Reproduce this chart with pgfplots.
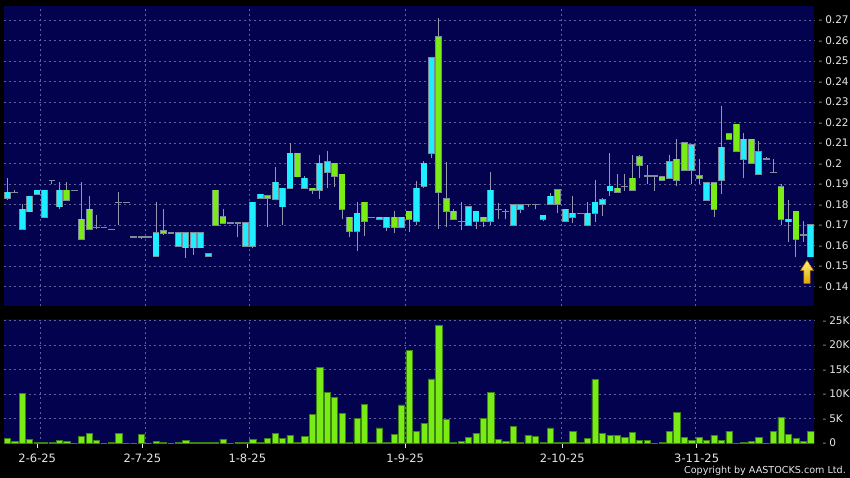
\documentclass[border=0pt]{standalone}
\usepackage{pgfplots}
\pgfplotsset{compat=1.18}
\usepackage{pgfplotstable}
\usepackage{fontspec}
\setmainfont{DejaVu Sans}
\definecolor{panel}{RGB}{2,2,78}
\definecolor{gridc}{RGB}{95,95,155}
\definecolor{wick}{RGB}{150,150,175}
\definecolor{bord}{RGB}{125,140,155}
\definecolor{cy}{RGB}{30,238,255}
\definecolor{gr}{RGB}{120,236,20}
\definecolor{vbord}{RGB}{60,130,20}
\definecolor{lab}{RGB}{230,230,230}
\definecolor{dashc}{RGB}{160,160,160}
\newcommand{\dl}[1]{\textcolor{dashc}{-}\hspace{3pt}#1}

\pgfplotstableread{
x lo hi bot top c
0 0.1822 0.1928 0.1831 0.1860 1
1 0.1860 0.1870 0.1860 0.1860 0
2 0.1681 0.1802 0.1681 0.1777 1
3 0.1766 0.1840 0.1766 0.1840 1
4 0.1850 0.1869 0.1850 0.1869 1
5 0.1739 0.1869 0.1739 0.1869 1
6 0.1898 0.1918 0.1918 0.1918 0
7 0.1777 0.1908 0.1790 0.1869 1
8 0.1821 0.1908 0.1821 0.1869 2
9 0.1869 0.1869 0.1869 0.1869 0
10 0.1632 0.1908 0.1632 0.1729 2
11 0.1680 0.1844 0.1680 0.1777 2
12 0.1680 0.1748 0.1690 0.1690 0
13 0.1690 0.1690 0.1690 0.1690 0
14 0.1680 0.1680 0.1680 0.1680 0
15 0.1700 0.1860 0.1811 0.1811 0
16 0.1811 0.1811 0.1811 0.1811 0
17 0.1642 0.1642 0.1642 0.1642 0
18 0.1632 0.1642 0.1642 0.1642 0
19 0.1642 0.1642 0.1642 0.1642 0
20 0.1548 0.1811 0.1548 0.1661 1
21 0.1652 0.1777 0.1660 0.1673 2
22 0.1661 0.1661 0.1661 0.1661 0
23 0.1597 0.1661 0.1597 0.1661 1
24 0.1539 0.1661 0.1589 0.1661 1
25 0.1556 0.1661 0.1589 0.1661 1
26 0.1589 0.1661 0.1589 0.1661 1
27 0.1548 0.1560 0.1548 0.1560 1
28 0.1700 0.1869 0.1700 0.1869 2
29 0.1710 0.1777 0.1710 0.1739 2
30 0.1710 0.1710 0.1710 0.1710 0
31 0.1640 0.1710 0.1710 0.1710 0
32 0.1597 0.1710 0.1597 0.1710 1
33 0.1587 0.1811 0.1597 0.1811 1
34 0.1831 0.1850 0.1831 0.1850 1
35 0.1689 0.1842 0.1831 0.1842 2
36 0.1827 0.1982 0.1827 0.1909 1
37 0.1700 0.1879 0.1790 0.1879 1
38 0.1879 0.2100 0.1879 0.2050 1
39 0.1936 0.2050 0.1936 0.2050 2
40 0.1879 0.1939 0.1879 0.1928 1
41 0.1852 0.1879 0.1869 0.1879 2
42 0.1827 0.2042 0.1869 0.2001 1
43 0.1879 0.2061 0.1957 0.2009 1
44 0.1887 0.2001 0.1939 0.2001 2
45 0.1728 0.1948 0.1777 0.1948 2
46 0.1640 0.1738 0.1671 0.1738 2
47 0.1575 0.1813 0.1671 0.1757 1
48 0.1648 0.1811 0.1720 0.1811 2
49 0.1738 0.1738 0.1738 0.1738 0
50 0.1730 0.1738 0.1730 0.1738 1
51 0.1671 0.1738 0.1689 0.1738 1
52 0.1660 0.1770 0.1689 0.1738 2
53 0.1689 0.1738 0.1689 0.1738 1
54 0.1668 0.1767 0.1730 0.1767 2
55 0.1700 0.1917 0.1720 0.1879 1
56 0.1879 0.2014 0.1891 0.2001 1
57 0.2029 0.2516 0.2050 0.2516 1
58 0.1680 0.2708 0.1860 0.2619 2
59 0.1689 0.2010 0.1767 0.1829 2
60 0.1728 0.1777 0.1728 0.1767 2
61 0.1676 0.1811 0.1718 0.1718 0
62 0.1699 0.1789 0.1699 0.1789 1
63 0.1680 0.1767 0.1718 0.1767 1
64 0.1689 0.1738 0.1718 0.1738 2
65 0.1700 0.1957 0.1718 0.1869 1
66 0.1728 0.1806 0.1777 0.1777 0
67 0.1728 0.1777 0.1767 0.1767 0
68 0.1699 0.1799 0.1699 0.1799 1
69 0.1757 0.1799 0.1777 0.1799 1
70 0.1789 0.1799 0.1799 0.1799 0
71 0.1777 0.1799 0.1799 0.1799 0
72 0.1718 0.1748 0.1728 0.1748 1
73 0.1799 0.1858 0.1801 0.1840 1
74 0.1757 0.1871 0.1801 0.1871 2
75 0.1720 0.1777 0.1720 0.1777 1
76 0.1708 0.1842 0.1738 0.1757 1
77 0.1757 0.1757 0.1757 0.1757 0
78 0.1699 0.1814 0.1699 0.1757 1
79 0.1717 0.1920 0.1757 0.1811 1
80 0.1746 0.1830 0.1801 0.1822 1
81 0.1842 0.2053 0.1868 0.1890 1
82 0.1860 0.1949 0.1860 0.1879 2
83 0.1868 0.1949 0.1889 0.1889 0
84 0.1871 0.2042 0.1871 0.1928 2
85 0.1928 0.2042 0.1992 0.2032 2
86 0.1899 0.1993 0.1939 0.1939 0
87 0.1868 0.1939 0.1939 0.1939 0
88 0.1918 0.1936 0.1918 0.1936 2
89 0.1928 0.2042 0.1928 0.2009 1
90 0.1891 0.2118 0.1918 0.2021 2
91 0.1969 0.2100 0.1969 0.2100 2
92 0.1900 0.2091 0.1969 0.2091 1
93 0.1900 0.2022 0.1928 0.1939 2
94 0.1821 0.1906 0.1821 0.1906 1
95 0.1738 0.1906 0.1777 0.1906 2
96 0.1850 0.2281 0.1918 0.2079 1
97 0.2118 0.2146 0.2118 0.2146 2
98 0.2061 0.2191 0.2061 0.2191 2
99 0.1928 0.2148 0.2022 0.2118 1
100 0.2001 0.2118 0.2001 0.2118 2
101 0.1948 0.2110 0.1948 0.2058 1
102 0.2022 0.2032 0.2022 0.2022 0
103 0.1957 0.2022 0.1957 0.1957 0
104 0.1700 0.1900 0.1728 0.1887 2
105 0.1619 0.1822 0.1717 0.1728 1
106 0.1546 0.1767 0.1631 0.1767 2
107 0.1619 0.1720 0.1652 0.1652 0
108 0.1546 0.1700 0.1546 0.1700 1
}\candles

\pgfplotstableread{
x v
0 0.9
1 0.4
2 10.2
3 0.8
4 0.15
5 0.1
6 0.2
7 0.6
8 0.3
9 0
10 1.4
11 2.0
12 0.5
13 0
14 0.2
15 2.0
16 0
17 0
18 1.7
19 0
20 0.3
21 0.1
22 0
23 0.05
24 0.6
25 0.05
26 0.2
27 0.05
28 0.2
29 0.8
30 0
31 0.2
32 0.05
33 0.7
34 0.05
35 0.95
36 2.0
37 1.0
38 1.6
39 0.05
40 1.4
41 5.8
42 15.5
43 10.3
44 9.4
45 6.0
46 0.2
47 5.0
48 7.9
49 0.2
50 3.1
51 0.2
52 1.8
53 7.8
54 18.9
55 2.4
56 4.0
57 13.1
58 24.0
59 4.8
60 0.2
61 0.4
62 1.2
63 2.0
64 5.0
65 10.4
66 0.8
67 0.35
68 3.4
69 0.05
70 1.6
71 1.4
72 0.05
73 3.1
74 0.1
75 0.1
76 2.4
77 0.2
78 1.0
79 13.0
80 2.0
81 1.6
82 1.5
83 1.2
84 2.1
85 0.5
86 0.5
87 0
88 0.05
89 2.4
90 6.3
91 1.2
92 0.5
93 1.2
94 0.5
95 1.6
96 0.5
97 2.4
98 0
99 0.2
100 0.3
101 1.2
102 0
103 2.4
104 5.3
105 1.7
106 1.0
107 0.3
108 2.3
}\vols

\pgfplotsset{
  /pgf/number format/assume math mode=true,
  every tick label/.append style={font=\fontsize{10.5}{12}\selectfont, text=lab},
  nomark/.style={only marks, mark=*, mark size=0pt, mark options={draw=none, fill=none}, forget plot},
  panelstyle/.style={
    scale only axis, anchor=south west,
    width=810.3pt,
    xmin=-0.44, xmax=108.47,
    axis background/.style={fill=panel},
    axis line style={draw=none},
    grid style={draw=gridc, dash pattern=on 2pt off 3pt, line width=0.6pt},
    ytick style={draw=none},
    yticklabel pos=right,
    yticklabel style={anchor=west, inner sep=0pt, xshift=4pt},
    extra x ticks={4.5,18.5,32.5,53.5,74.5,92.5},
    extra x tick labels={},
    extra x tick style={xmajorgrids=true, major tick length=0pt},
  },
}

\begin{document}
\begin{tikzpicture}[x=1pt,y=1pt]
\fill[black] (0pt,0pt) rectangle (850pt,478pt);

% ---------- price panel ----------
\begin{axis}[panelstyle,
  at={(4pt,172pt)}, height=300pt,
  ymin=0.13056, ymax=0.27683,
  xtick=\empty,
  ytick={0.14,0.15,0.16,0.17,0.18,0.19,0.2,0.21,0.22,0.23,0.24,0.25,0.26,0.27},
  ymajorgrids,
  yticklabel={\dl{\pgfmathprintnumber[fixed,precision=2]{\tick}}},
]
% wicks
\addplot[nomark, color=wick,
  error bars/.cd, y dir=plus, y explicit, error mark=none,
  error bar style={line width=0.9pt, draw=wick}]
  table[x=x, y=lo, y error plus expr=\thisrow{hi}-\thisrow{lo}] {\candles};
% body outlines (and doji lines): body range widened by about 0.6 px each side
\addplot[nomark, color=bord,
  error bars/.cd, y dir=plus, y explicit, error mark=none,
  error bar style={line width=6.8pt, draw=bord}]
  table[x=x, y expr=\thisrow{bot}-0.0003, y error plus expr=\thisrow{top}-\thisrow{bot}+0.0006] {\candles};
% cyan bodies
\addplot[nomark, color=cy,
  x filter/.expression={\thisrow{c}==1 ? x : nan},
  error bars/.cd, y dir=plus, y explicit, error mark=none,
  error bar style={line width=5.2pt, draw=cy}]
  table[x=x, y=bot, y error plus expr=\thisrow{top}-\thisrow{bot}] {\candles};
% green bodies
\addplot[nomark, color=gr,
  x filter/.expression={\thisrow{c}==2 ? x : nan},
  error bars/.cd, y dir=plus, y explicit, error mark=none,
  error bar style={line width=5.2pt, draw=gr}]
  table[x=x, y=bot, y error plus expr=\thisrow{top}-\thisrow{bot}] {\candles};
\end{axis}

% ---------- volume panel ----------
\begin{axis}[panelstyle,
  at={(4pt,34pt)}, height=124.7pt,
  ymin=-0.2, ymax=25.29,
  ytick={5,10,15,20,25},
  yticklabels={{\dl{5K}},{\dl{10K}},{\dl{15K}},{\dl{20K}},{\dl{25K}}},
  ymajorgrids,
  extra y ticks={0}, extra y tick labels={{\dl{0}}},
  extra y tick style={ymajorgrids=false},
  xtick={4.03,18.15,32.26,53.49,74.6,92.66},
  xticklabels={2-6-25,2-7-25,1-8-25,1-9-25,2-10-25,3-11-25},
  x tick style={draw=lab, line width=0.9pt},
  xtick pos=bottom, tick align=outside, major tick length=4pt,
  xticklabel style={yshift=-2pt, font=\fontsize{11.5}{13}\selectfont},
]
\addplot[ybar, bar width=6.2pt, bar shift=0pt, fill=gr, draw=vbord, line width=0.6pt]
  table[x=x, y=v] {\vols};
\end{axis}

% latest-price marker
\shade[top color={rgb,255:red,255;green,240;blue,120}, bottom color={rgb,255:red,225;green,165;blue,0}, draw={rgb,255:red,190;green,130;blue,0}, line width=0.5pt]
  (807pt,217.5pt) -- (813.5pt,207.5pt) -- (810.2pt,207.5pt) -- (810.2pt,194.5pt) -- (803.8pt,194.5pt) -- (803.8pt,207.5pt) -- (800.5pt,207.5pt) -- cycle;

\node[anchor=east, inner sep=0pt, text=lab, font=\fontsize{9.6}{11}\selectfont] at (846pt,7pt) {Copyright by AASTOCKS.com Ltd.};
\end{tikzpicture}
\end{document}
